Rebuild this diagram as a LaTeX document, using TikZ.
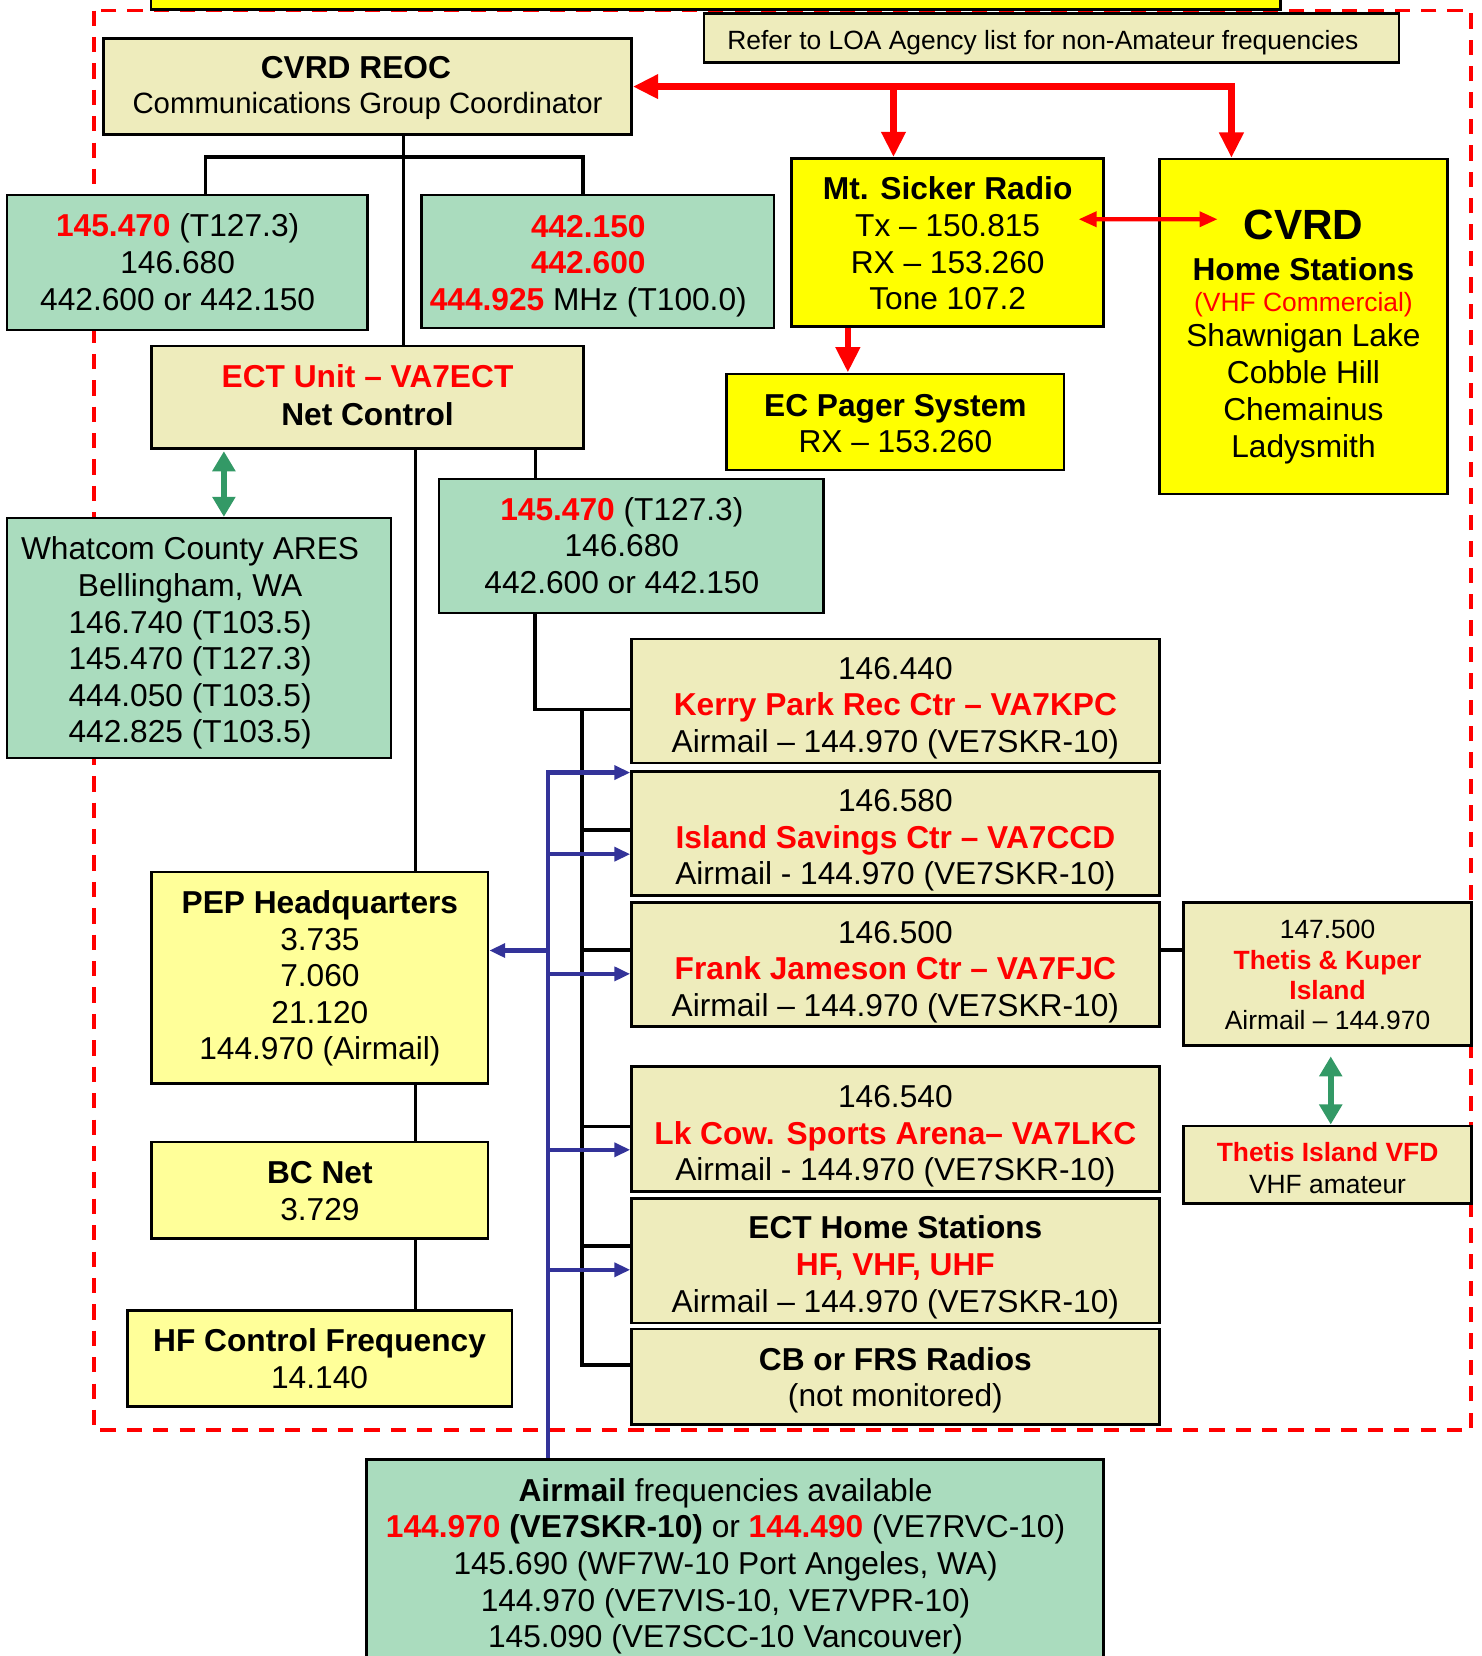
\documentclass[tikz,border=0pt]{standalone}
\usepackage{fontspec}
\setmainfont{Liberation Sans}
\usetikzlibrary{arrows.meta}
\definecolor{grnC}{RGB}{170,220,190}
\definecolor{bgeC}{RGB}{238,236,188}
\definecolor{lylC}{RGB}{255,255,153}
\definecolor{ylwC}{RGB}{255,255,0}
\definecolor{bluC}{RGB}{51,51,153}
\definecolor{garC}{RGB}{51,153,102}
\definecolor{redC}{RGB}{255,0,0}
\newcommand\hstr[1]{\rule{0pt}{#1pt}}
\newcommand\dstr{\rule[-7pt]{0pt}{7pt}}
\newcommand\rb[1]{\textcolor{redC}{\textbf{#1}}}
\newcommand\ks{\kern18pt}
\begin{document}
\begin{tikzpicture}[x=1pt,y=-1pt,
  box/.style={draw=black, line width=2.5pt, inner sep=0pt, align=center,
    font=\fontsize{30}{34.7}\selectfont},
  grn/.style={box, fill=grnC},
  bge/.style={box, fill=bgeC},
  ylw/.style={box, fill=ylwC},
  lyl/.style={box, fill=lylC},
  sm/.style={font=\fontsize{25}{28.7}\selectfont},
  blk/.style={draw=black, line width=3.2pt},
  redA/.style={draw=redC, line width=6pt, -{Triangle[length=24pt,width=22pt]}},
  redAA/.style={draw=redC, line width=6pt, {Triangle[length=24pt,width=22pt]}-{Triangle[length=24pt,width=22pt]}},
  redB/.style={draw=redC, line width=3.8pt, {Triangle[length=17pt,width=14pt]}-{Triangle[length=17pt,width=14pt]}},
  grnA/.style={draw=garC, line width=6pt, {Triangle[length=19pt,width=21pt]}-{Triangle[length=19pt,width=21pt]}},
  bluA/.style={draw=bluC, line width=4pt, -{Triangle[length=15pt,width=13pt]}},
  bluR/.style={draw=bluC, line width=4pt, {Triangle[length=15pt,width=13pt]}-},
  frame/.style={draw=redC, line width=3.6pt, dash pattern=on 14.5pt off 10.5pt}
]
\useasboundingbox (0,0) rectangle (1403,1568);
\clip (0,0) rectangle (1403,1568);

% dashed outer frame
\draw[frame] (89,10) rectangle (1393,1354);

% top banner (cut by the top edge)
\node[ylw, minimum width=1069.5pt, minimum height=60pt] (banner) at (677.75,-21) {};

% nodes
\node[bge, sm, minimum width=658pt, minimum height=46pt] (loa) at (995.5,36)
  {\hstr{28}Refer to LOA Agency list for non-Amateur frequencies\kern16pt\dstr};
\node[bge, minimum width=500pt, minimum height=91pt] (reoc) at (348,82)
  {\hstr{25.5}\textbf{CVRD REOC}\kern22pt\\[-1.7pt]{\fontsize{27.8}{30}\selectfont Communications Group Coordinator}\dstr};
\node[grn, minimum width=341pt, minimum height=128pt] (fa) at (177.2,248.5)
  {\hstr{28}\rb{145.470} (T127.3)\ks\\146.680\ks\\442.600 or 442.150\ks\dstr};
\node[grn, minimum width=334pt, minimum height=126pt] (fb) at (566,247.6)
  {\hstr{30.3}\rb{442.150}\ks\\\rb{442.600}\ks\\\rb{444.925} MHz (T100.0)\ks\dstr};
\node[ylw, minimum width=295.4pt, minimum height=159pt] (mts) at (897.3,229.5)
  {\hstr{30.5}\textbf{Mt. Sicker Radio}\\Tx – 150.815\\RX – 153.260\\Tone 107.2\dstr};
\node[ylw, minimum width=273.2pt, minimum height=317pt, font=\fontsize{30}{35}\selectfont] (home) at (1234.2,309.2)
  {\hstr{49}{\fontsize{40}{40}\selectfont\textbf{CVRD}}\\[3pt]\textbf{Home Stations}\\[-5pt]{\fontsize{25}{25}\selectfont\textcolor{redC}{(VHF Commercial)}}\\[-2pt]Shawnigan Lake\\Cobble Hill\\Chemainus\\Ladysmith\dstr};
\node[ylw, minimum width=319.6pt, minimum height=91pt] (pager) at (847.8,399.5)
  {\hstr{30.5}\textbf{EC Pager System}\\RX – 153.260\dstr};
\node[bge, minimum width=409pt, minimum height=97pt] (ect) at (348,376)
  {\hstr{24.5}\rb{ECT Unit – VA7ECT}\\[1.3pt]\textbf{Net Control}\dstr};
\node[grn, minimum width=363.7pt, minimum height=227pt] (what) at (188.5,604.1)
  {\hstr{32.3}Whatcom County ARES\kern17pt\\Bellingham, WA\kern17pt\\146.740 (T103.5)\kern17pt\\145.470 (T127.3)\kern17pt\\444.050 (T103.5)\kern17pt\\442.825 (T103.5)\kern17pt\dstr};
\node[grn, minimum width=364.4pt, minimum height=127pt] (fc) at (597.8,517)
  {\hstr{27.5}\rb{145.470} (T127.3)\ks\\146.680\ks\\442.600 or 442.150\ks\dstr};
\node[bge, minimum width=499.6pt, minimum height=117.6pt] (kerry) at (847.8,663.8)
  {\hstr{34.9}146.440\\\rb{Kerry Park Rec Ctr – VA7KPC}\\Airmail – 144.970 (VE7SKR-10)\dstr};
\node[bge, minimum width=499.6pt, minimum height=117.5pt] (island) at (847.8,789.2)
  {\hstr{35.1}146.580\\\rb{Island Savings Ctr – VA7CCD}\\Airmail - 144.970 (VE7SKR-10)\dstr};
\node[bge, minimum width=499.6pt, minimum height=117.4pt] (frank) at (847.8,913.3)
  {\hstr{35.9}146.500\\\rb{Frank Jameson Ctr – VA7FJC}\\Airmail – 144.970 (VE7SKR-10)\dstr};
\node[bge, minimum width=499.6pt, minimum height=118.4pt] (lkcow) at (847.8,1069)
  {\hstr{35.5}146.540\\\rb{Lk Cow. Sports Arena– VA7LKC}\\Airmail - 144.970 (VE7SKR-10)\dstr};
\node[bge, minimum width=499.6pt, minimum height=117.8pt] (ecth) at (847.8,1193.9)
  {\hstr{34.7}\textbf{ECT Home Stations}\\\rb{HF, VHF, UHF}\\Airmail – 144.970 (VE7SKR-10)\dstr};
\node[bge, minimum width=499.6pt, minimum height=90.2pt] (cb) at (847.8,1303.6)
  {\hstr{29.3}\textbf{CB or FRS Radios}\\(not monitored)\dstr};
\node[bge, sm, minimum width=272.6pt, minimum height=135.4pt] (tk) at (1257,922.3)
  {\hstr{26.4}147.500\\\rb{Thetis \& Kuper}\\\rb{Island}\\Airmail – 144.970\dstr};
\node[bge, sm, minimum width=272.6pt, minimum height=73.8pt] (vfd) at (1257,1102.9)
  {\hstr{31.2}\rb{Thetis Island VFD}\\[1.3pt]VHF amateur\dstr};
\node[lyl, minimum width=318.3pt, minimum height=200.3pt] (pep) at (302.9,925.9)
  {\hstr{23.7}\textbf{PEP Headquarters}\\3.735\\7.060\\21.120\\144.970 (Airmail)\dstr};
\node[lyl, minimum width=318.3pt, minimum height=91.1pt] (bc) at (302.9,1127)
  {\hstr{29.5}\textbf{BC Net}\\3.729\dstr};
\node[lyl, minimum width=364.2pt, minimum height=91pt] (hf) at (302.6,1286.3)
  {\hstr{28.9}\textbf{HF Control Frequency}\\14.140\dstr};
\node[grn, minimum width=698pt, minimum height=193pt] (air) at (696,1478.5)
  {\hstr{31.5}\textbf{Airmail} frequencies available\ks\\\rb{144.970} \textbf{(VE7SKR-10)} or \rb{144.490} (VE7RVC-10)\ks\\145.690 (WF7W-10 Port Angeles, WA)\ks\\144.970 (VE7VIS-10, VE7VPR-10)\ks\\145.090 (VE7SCC-10 Vancouver)\ks\dstr};

% black tree lines
\draw[blk] ([xshift=34pt]reoc.south) -- ([xshift=34pt]ect.north);
\draw[blk] ([xshift=17.5pt]fa.north) -- ++(0,-34.6) -| ([xshift=-14pt]fb.north);
\draw[blk] ([xshift=45.5pt]ect.south) -- ([xshift=90.6pt]pep.north);
\draw[blk] ([xshift=159pt]ect.south) -- ([xshift=-90.8pt]fc.north);
\draw[blk] ([xshift=-91.3pt]fc.south) |- ([yshift=-7.7pt]kerry.west);
\draw[blk] ([yshift=11.3pt]cb.west) -- ++(-45.6,0) |- ([yshift=-7.7pt]kerry.west);
\draw[blk] ([yshift=3.4pt]island.west) -- ++(-45.6,0);
\draw[blk] ([yshift=13.9pt]frank.west) -- ++(-45.6,0);
\draw[blk] ([yshift=2.4pt]lkcow.west) -- ++(-45.6,0);
\draw[blk] ([yshift=14.3pt]ecth.west) -- ++(-45.6,0);
\draw[blk] ([yshift=13.9pt]frank.east) -- ([yshift=22.9pt]tk.west);
\draw[blk] ([xshift=90.6pt]pep.south) -- ([xshift=90.6pt]bc.north);
\draw[blk] ([xshift=90.6pt]bc.south) -- ([xshift=90.9pt]hf.north);

% red arrows
\draw[redAA] (reoc.east) -| ([xshift=-68.2pt]home.north);
\coordinate (rj) at (846,82);
\draw[redA] (rj) -- ([xshift=-51.3pt]mts.north);
\draw[redA] ([xshift=-94.5pt]mts.south) -- ([xshift=-45pt]pager.north);
\draw[redB] ([xshift=-25pt,yshift=21.9pt]mts.east) -- ([xshift=56.5pt,yshift=101.6pt]home.west);

% green arrows
\draw[grnA] ([xshift=-136pt,yshift=-1.5pt]ect.south) -- ([xshift=23.5pt]what.north);
\draw[grnA] ([xshift=3pt,yshift=-9pt]tk.south) -- ([xshift=3pt]vfd.north);

% blue airmail lines
\draw[bluA] ([xshift=-177pt]air.north) |- ([yshift=57.7pt]island.west);
\draw[bluR] ([yshift=-19.6pt]island.west) -- ++(-79,0);
\draw[bluR] ([yshift=-8.8pt]frank.west) -- ++(-79,0);
\draw[bluR] ([yshift=-19.7pt]lkcow.west) -- ++(-79,0);
\draw[bluR] ([yshift=-8.4pt]ecth.west) -- ++(-79,0);
\draw[bluR] ([yshift=25.9pt]pep.east) -- ++(57,0);
\end{tikzpicture}
\end{document}
